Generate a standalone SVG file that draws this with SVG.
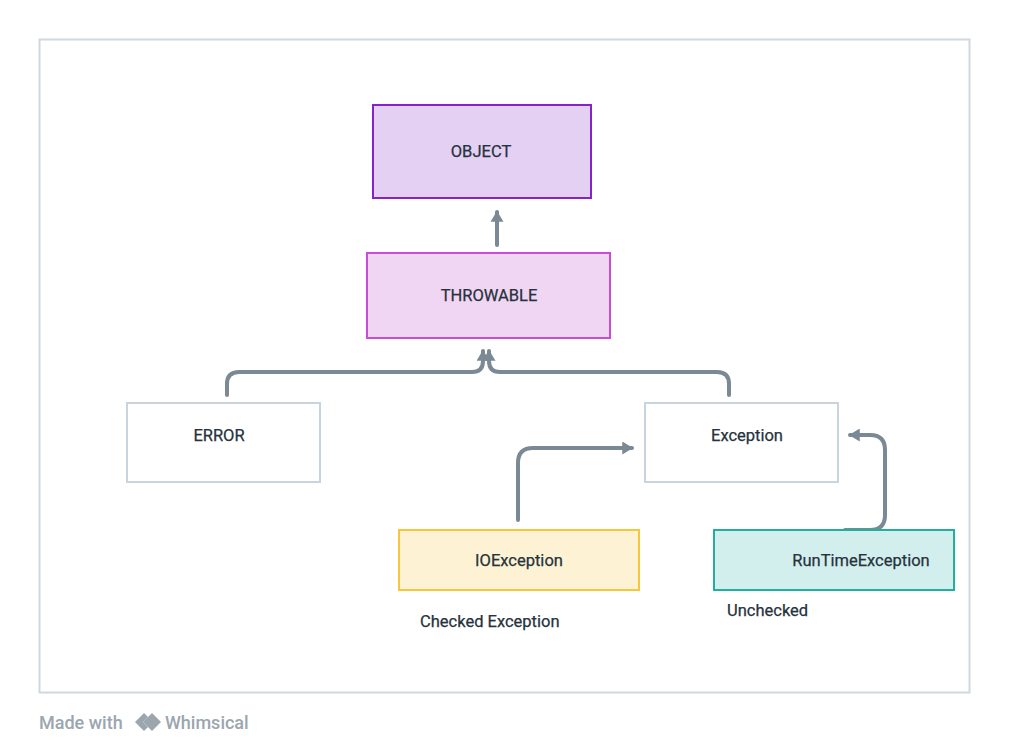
<svg xmlns="http://www.w3.org/2000/svg" width="1009" height="752" viewBox="0 0 1009 752">
<style>
.box{stroke-width:2}
.lbl{font-family:Roboto,"Liberation Sans",Arial,sans-serif;font-size:16.5px;font-weight:400;fill:#26323d;text-anchor:middle;stroke:#26323d;stroke-width:0.25}
.note{font-family:Roboto,"Liberation Sans",Arial,sans-serif;font-size:16.5px;font-weight:400;fill:#26323d;stroke:#26323d;stroke-width:0.25}
.conn{fill:none;stroke:#7a8994;stroke-width:4;stroke-linecap:round;stroke-linejoin:round}
.wm{font-family:Roboto,"Liberation Sans",Arial,sans-serif;font-size:18px;font-weight:500;fill:#9ba6af}
</style>
<defs>
<marker id="ah" viewBox="0 0 10 12" refX="9" refY="6" markerUnits="userSpaceOnUse" markerWidth="11" markerHeight="13" orient="auto">
<path d="M0,0 L10,6 L0,12 z" fill="#7a8994"/>
</marker>
</defs>
<rect width="1009" height="752" fill="#ffffff"/>
<rect x="39.5" y="39.5" width="930" height="653" fill="#ffffff" stroke="#cfd8de" stroke-width="2"/>
<g id="connectors">
<path class="conn" d="M497,245 V212" marker-end="url(#ah)"/>
<path class="conn" d="M227,395 V384 Q227,372 239,372 H472 Q483,372 483,361 V351" marker-end="url(#ah)"/>
<path class="conn" d="M729,395 V384 Q729,372 717,372 H500 Q489,372 489,361 V351" marker-end="url(#ah)"/>
<path class="conn" d="M518,520 V463 Q518,448 533,448 H632" marker-end="url(#ah)"/>
<path class="conn" d="M845,530 H870 Q885,530 885,515 V450 Q885,435 870,435 H850" marker-end="url(#ah)"/>
</g>
<g id="object">
<rect class="box" x="373" y="105" width="218" height="93" fill="#e3d0f3" stroke="#8623c8"/>
<text class="lbl" x="481" y="157">OBJECT</text>
</g>
<g id="throwable">
<rect class="box" x="367" y="253" width="243" height="85" fill="#f1d6f4" stroke="#c94ddb"/>
<text class="lbl" x="489" y="301">THROWABLE</text>
</g>
<g id="error">
<rect class="box" x="127" y="403" width="193" height="79" fill="#ffffff" stroke="#c8d5df"/>
<text class="lbl" x="219" y="441">ERROR</text>
</g>
<g id="exception">
<rect class="box" x="645" y="403" width="193" height="79" fill="#ffffff" stroke="#c8d5df"/>
<text class="lbl" x="747" y="441">Exception</text>
</g>
<g id="ioexception">
<rect class="box" x="399" y="530" width="240" height="60" fill="#fdf2d3" stroke="#f8c63a"/>
<text class="lbl" x="519" y="566">IOException</text>
</g>
<g id="runtimeexception">
<rect class="box" x="714" y="530" width="240" height="60" fill="#d2efed" stroke="#22b09c"/>
<text class="lbl" x="861" y="566">RunTimeException</text>
</g>
<text class="note" x="420" y="627">Checked Exception</text>
<text class="note" x="727" y="616">Unchecked</text>
<g id="watermark">
<text class="wm" x="39" y="729">Made with</text>
<path d="M144,713 L135,722 L144,731 L148,727 L143,722 L148,717 z" fill="#9ba6af"/>
<path d="M152,713 L161,722 L152,731 L143,722 z" fill="#9ba6af"/>
<text class="wm" x="165" y="729">Whimsical</text>
</g>
</svg>
